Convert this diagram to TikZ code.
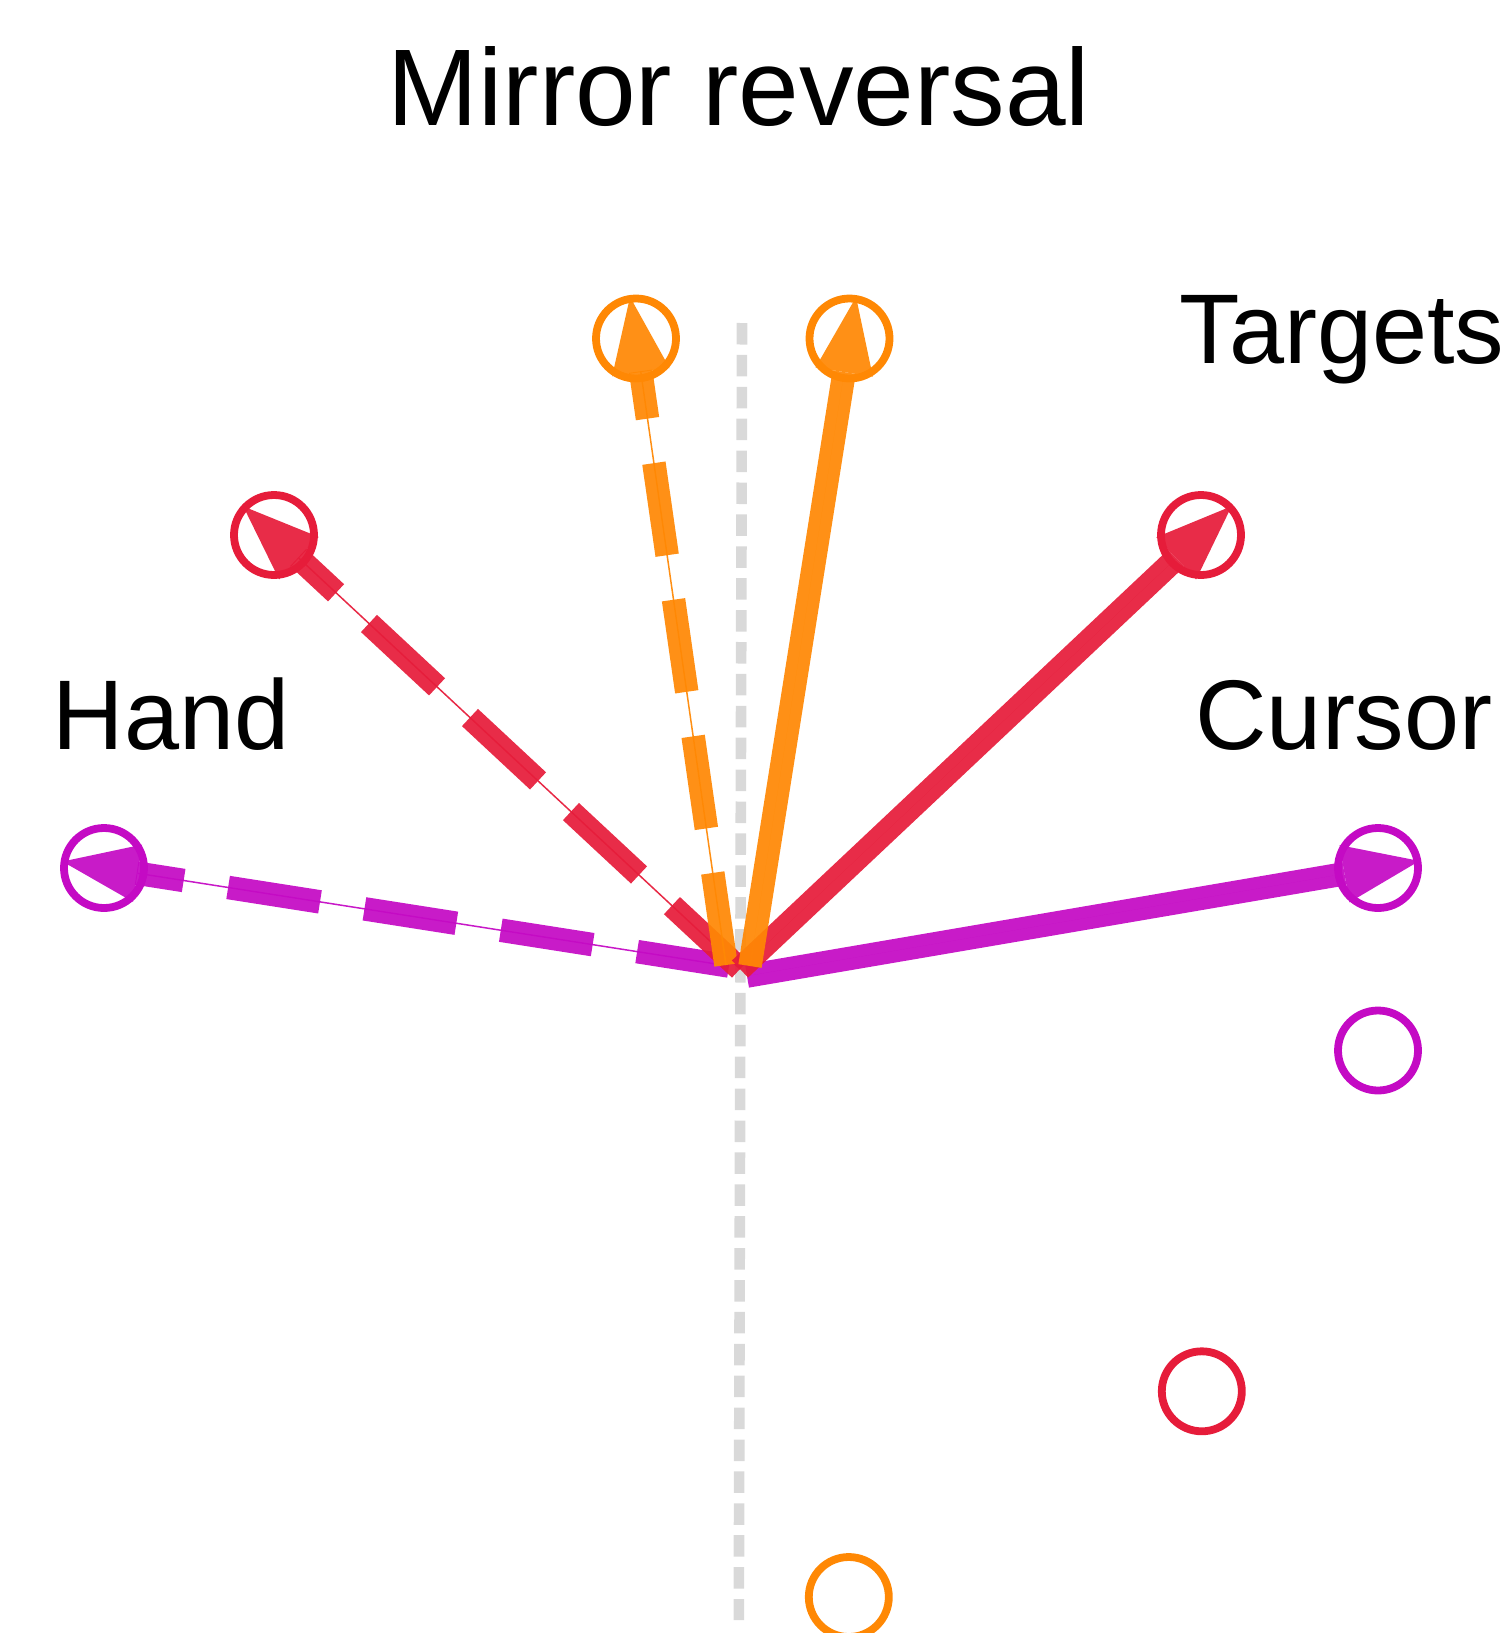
\documentclass[tikz,border=0pt]{standalone}
\usepackage{fontspec}
\setmainfont{Liberation Sans}
\usetikzlibrary{arrows.meta,calc}

\definecolor{tgOrange}{RGB}{255,136,4}
\definecolor{tgRed}{RGB}{230,28,58}
\definecolor{tgMag}{RGB}{196,10,196}
\definecolor{guideGray}{RGB}{217,217,217}

\tikzset{
  target/.style={circle, draw=#1, line width=7.8pt, minimum size=80pt, inner sep=0pt},
  headtip/.style={-{Triangle[length=76pt,width=58pt,line width=0pt]}},
  cursorarrow/.style={draw=#1, fill=#1, line width=23.5pt, opacity=0.93, headtip},
  handthin/.style={draw=#1, fill=#1, line width=1.5pt, opacity=0.93, headtip},
  handdash/.style={draw=#1, line width=23.5pt, opacity=0.93, dash pattern=on 93pt off 45pt},
  guideline/.style={draw=guideGray, line width=10.6pt, dash pattern=on 21.5pt off 10.4pt},
  bigtitle/.style={font=\fontsize{109}{120}\selectfont, inner sep=0pt, anchor=base},
  sidelabel/.style={font=\fontsize{99}{110}\selectfont, inner sep=0pt, anchor=base},
}

\begin{document}
\begin{tikzpicture}[x=1pt,y=-1pt]
\useasboundingbox (0,0) rectangle (1509,1633);

% vertical mirror axis
\coordinate (gTop) at (742,323);
\coordinate (gBot) at (738.8,1620);
\draw[guideline] (gTop) -- (gBot);

% targets above the start point
\node[target=tgOrange] (tOL) at (636,338.5) {};
\node[target=tgOrange] (tOR) at (849.5,338.5) {};
\node[target=tgRed]    (tRL) at (274,535) {};
\node[target=tgRed]    (tRR) at (1201,535) {};
\node[target=tgMag]    (tML) at (104,868) {};
\node[target=tgMag]    (tMR) at (1378,868) {};
% targets below the start point
\node[target=tgMag]    (bM) at (1378,1050.5) {};
\node[target=tgRed]    (bR) at (1201.8,1391.3) {};
\node[target=tgOrange] (bO) at (848.8,1597) {};

% start points of the hand and cursor paths
\coordinate (hO) at (726,965);
\coordinate (hM) at (729,966);
\coordinate (hR) at (740,969);
\coordinate (cO) at (750,966);
\coordinate (cM) at (747,976);
\coordinate (cR) at (740,969);

% hand paths: thin line with head, thick dashes on top
\draw[handthin=tgMag]    (hM) -- ($(tML.center)!-42pt!(hM)$);
\draw[handdash=tgMag]    (hM) -- ($(tML.center)!33pt!(hM)$);
\draw[handthin=tgRed]    (hR) -- ($(tRL.center)!-42pt!(hR)$);
\draw[handdash=tgRed]    (hR) -- ($(tRL.center)!33pt!(hR)$);
\draw[handthin=tgOrange] (hO) -- ($(tOL.center)!-42pt!(hO)$);
\draw[handdash=tgOrange] (hO) -- ($(tOL.center)!33pt!(hO)$);

% cursor paths
\draw[cursorarrow=tgMag]    (cM) -- ($(tMR.center)!-42pt!(cM)$);
\draw[cursorarrow=tgRed]    (cR) -- ($(tRR.center)!-42pt!(cR)$);
\draw[cursorarrow=tgOrange] (cO) -- ($(tOR.center)!-42pt!(cO)$);

% labels
\node[bigtitle]  (title)   at (739,125) {Mirror reversal};
\node[sidelabel] (lTarget) at (1342,363) {Targets};
\node[sidelabel] (lHand)   at (171,749) {Hand};
\node[sidelabel] (lCursor) at (1344,749) {Cursor};
\end{tikzpicture}
\end{document}
